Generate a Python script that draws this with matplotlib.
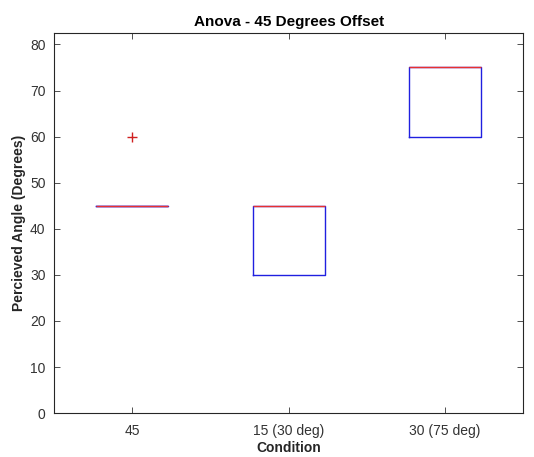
import matplotlib.pyplot as plt

plt.rcParams['font.family'] = ['Liberation Sans', 'DejaVu Sans']

# box statistics per condition
conditions = ['45', '15 (30 deg)', '30 (75 deg)']
q1 = [45, 30, 60]
medians = [45, 45, 75]
q3 = [45, 45, 75]
whisker_low = [45, 30, 60]
whisker_high = [45, 45, 75]
outliers = [[60], [], []]

stats = []
for i, name in enumerate(conditions):
    stats.append({'label': name, 'q1': q1[i], 'med': medians[i], 'q3': q3[i],
                  'whislo': whisker_low[i], 'whishi': whisker_high[i],
                  'fliers': outliers[i]})

fig = plt.figure(figsize=(5.34, 4.57), dpi=100)
ax = fig.add_axes([0.101, 0.096, 0.879, 0.832])

ax.bxp(stats, positions=[1, 2, 3], widths=0.46, showcaps=False,
       boxprops=dict(color='#2020e0', linewidth=1.0),
       medianprops=dict(color='#e83030', linewidth=1.0),
       whiskerprops=dict(color='black', linewidth=0.8, linestyle='--'),
       flierprops=dict(marker='+', markeredgecolor='#d02020', markersize=7,
                       markeredgewidth=1.0, linestyle='none'))

ax.set_xlim(0.5, 3.5)
ax.set_ylim(0, 82.5)
ax.set_yticks(range(0, 81, 10))
ax.set_xticks([1, 2, 3])
ax.set_xticklabels(conditions)

gray = '#333333'
ax.tick_params(direction='in', top=True, right=True, length=4, width=0.6,
               labelsize=10, colors=gray, labelcolor=gray)
ax.tick_params(axis='x', pad=8)
ax.tick_params(axis='y', pad=6)
for sp in ax.spines.values():
    sp.set_linewidth(0.8)
    sp.set_color('#262626')

ax.set_title('Anova - 45 Degrees Offset', fontsize=11, fontweight='bold', color='black', pad=5)
ax.set_xlabel('Condition', fontsize=10, fontweight='bold', color='#262626', labelpad=2)
ax.set_ylabel('Percieved Angle (Degrees)', fontsize=10, fontweight='bold', color='#262626', labelpad=3)

fig.savefig('out.png', dpi=100)
